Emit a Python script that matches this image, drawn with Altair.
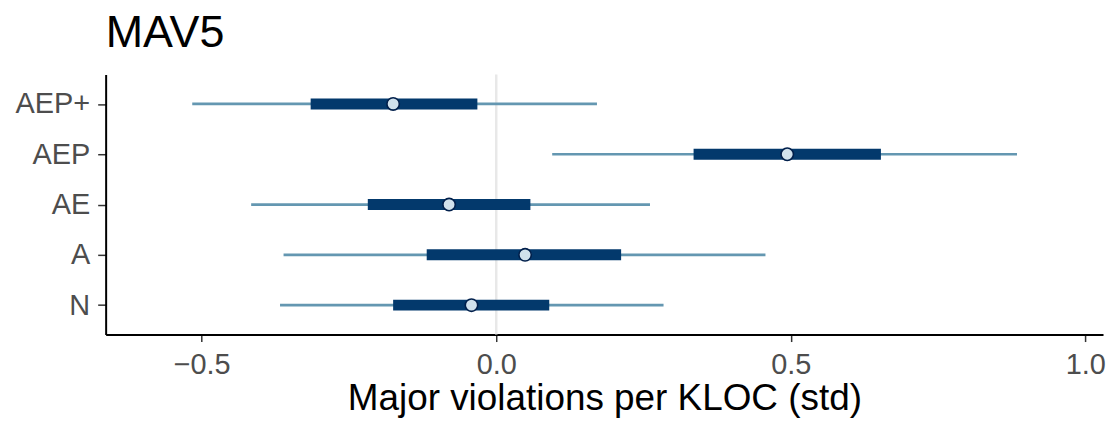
import altair as alt
import pandas as pd

params = ["AEP+", "AEP", "AE", "A", "N"]
outer_low = [-0.516, 0.095, -0.416, -0.361, -0.367]
outer_high = [0.171, 0.884, 0.261, 0.457, 0.284]
inner_low = [-0.315, 0.335, -0.218, -0.118, -0.175]
inner_high = [-0.032, 0.653, 0.058, 0.212, 0.090]
point = [-0.175, 0.494, -0.080, 0.049, -0.042]

df = pd.DataFrame({
    "param": params, "ll": outer_low, "hh": outer_high,
    "l": inner_low, "h": inner_high, "m": point,
})

x_scale = alt.Scale(domain=[-0.663, 1.030], nice=False, zero=False)
y_scale = alt.Scale(domain=params, type="point", padding=0.585)

x_axis = alt.Axis(values=[-0.5, 0.0, 0.5, 1.0], format=".1f", labelExpr="replace(datum.label, '-', '\u2212')",
                  title="Major violations per KLOC (std)", grid=False,
                  domainColor="black", domainWidth=2, tickColor="#333333", tickWidth=1.5, tickSize=7,
                  labelFont="Liberation Sans", labelFontSize=29, labelColor="#4d4d4d", labelPadding=9,
                  titleFont="Liberation Sans", titleFontSize=37, titleFontWeight="normal", titleColor="black",
                  titlePadding=1)
y_axis = alt.Axis(title=None, grid=False, domainColor="black", domainWidth=2,
                  tickColor="#333333", tickWidth=1.5, tickSize=8,
                  labelFont="Liberation Sans", labelFontSize=29, labelColor="#4d4d4d", labelPadding=8)

base = alt.Chart(df)

zero = alt.Chart(pd.DataFrame({"z": [0.0]})).mark_rule(color="#e8e8e8", strokeWidth=2.5).encode(
    x=alt.X("z:Q", scale=x_scale, axis=x_axis)
)

outer = base.mark_rule(color="#6497b1", strokeWidth=2.7).encode(
    x=alt.X("ll:Q", scale=x_scale, axis=x_axis), x2="hh:Q",
    y=alt.Y("param:N", scale=y_scale, axis=y_axis, sort=params),
)
inner = base.mark_rule(color="#03396c", strokeWidth=11, strokeCap="butt").encode(
    x=alt.X("l:Q", scale=x_scale), x2="h:Q",
    y=alt.Y("param:N", scale=y_scale, sort=params),
)
pts = base.mark_point(filled=True, fill="#d1e1ec", stroke="#011f4b", strokeWidth=1.6, size=155, opacity=1).encode(
    x=alt.X("m:Q", scale=x_scale),
    y=alt.Y("param:N", scale=y_scale, sort=params),
)

chart = alt.layer(zero, outer, inner, pts).properties(
    width=1001, height=261,
    padding={"left": 98, "top": 66, "right": 5, "bottom": 85},
    autosize=alt.AutoSizeParams(type="none"),
    background="white",
    title=alt.TitleParams("MAV5", anchor="start", frame="group", fontSize=45,
                          font="Liberation Sans", fontWeight="normal", color="black", offset=17),
).configure_view(stroke=None)

chart.save("out.html", embed_options={"renderer": "svg", "actions": False})
